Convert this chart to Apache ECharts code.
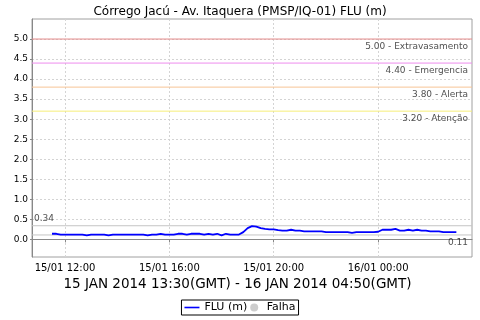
<!DOCTYPE html>
<html><head><meta charset="utf-8">
<script src="https://cdn.jsdelivr.net/npm/echarts@6/dist/echarts.min.js"></script>
<style>html,body{margin:0;padding:0;background:#fff}#c{width:480px;height:320px}</style>
</head><body><div id="c"></div>
<script>
const titleText = 'Córrego Jacú - Av. Itaquera (PMSP/IQ-01) FLU (m)';
const periodText = '15 JAN 2014 13:30(GMT) - 16 JAN 2014 04:50(GMT)';
const seriesName = 'FLU (m)';
const failName = 'Falha';
// local time of first reading, readings every 10 minutes
const startTime = '2014-01-15 11:30';
const stepMinutes = 10;
const fluValues = [
  0.14,0.14,0.12,0.12,0.12,0.12,0.12,0.12,0.10,0.12,0.12,0.12,
  0.12,0.10,0.12,0.12,0.12,0.12,0.12,0.12,0.12,0.12,0.10,0.12,
  0.12,0.14,0.12,0.12,0.12,0.14,0.14,0.12,0.14,0.14,0.14,0.12,
  0.14,0.12,0.14,0.10,0.14,0.12,0.12,0.12,0.18,0.28,0.33,0.32,
  0.28,0.26,0.25,0.25,0.23,0.22,0.22,0.24,0.22,0.22,0.20,0.20,
  0.20,0.20,0.20,0.18,0.18,0.18,0.18,0.18,0.18,0.16,0.18,0.18,
  0.18,0.18,0.18,0.19,0.24,0.24,0.24,0.26,0.22,0.22,0.24,0.22,
  0.24,0.22,0.22,0.20,0.20,0.20,0.18,0.18,0.18,0.18
];
const xTickLabels = ['2014-01-15 12:00','2014-01-15 16:00','2014-01-15 20:00','2014-01-16 00:00'];
const xRange = ['2014-01-15 10:44','2014-01-16 03:36'];
const yTicks = [0,0.5,1,1.5,2,2.5,3,3.5,4,4.5,5];
const yRange = [-0.44, 5.5];
const limitValues = [5.0, 4.4, 3.8, 3.2];
const limitNames = ['Extravasamento','Emergencia','Alerta','Atenção'];
const limitColors = ['#e48a8a','#ee8cee','#f7c596','#f6ee78'];
const maxValue = 0.34;
const minValue = 0.11;

function toUTC(s){const m=s.match(/(\d+)-(\d+)-(\d+) (\d+):(\d+)/);return Date.UTC(+m[1],+m[2]-1,+m[3],+m[4],+m[5]);}
function pad(n){return (n<10?'0':'')+n;}
const t0 = toUTC(startTime);
const data = fluValues.map((v,i)=>[t0+i*stepMinutes*60000, v]);
const xMin = toUTC(xRange[0]), xMax = toUTC(xRange[1]);
const FONT = 'DejaVu Sans';

function refLine(value, color){
  return {
    type:'line', silent:true, legendHoverLink:false, z:3,
    showSymbol:false, symbol:'none', color:color,
    lineStyle:{color:color, width:1, type:'solid'},
    data:[[xMin, value], [xMax, value]]
  };
}
const lineSeries = limitValues.map((v,i)=>refLine(v, limitColors[i]));
lineSeries.push(refLine(maxValue, '#c4c4c4'));
lineSeries.push(refLine(minValue, '#c4c4c4'));

const lbl = {show:true, color:'#222', fontFamily:FONT, fontSize:9};
const labelItems = limitValues.map((v,i)=>({value:[xMax, v],
  label:Object.assign({}, lbl, {formatter:v.toFixed(2)+' - '+limitNames[i], position:'left', distance:4, offset:[0,8]})}));
labelItems.push({value:[xMin, maxValue], label:Object.assign({}, lbl, {formatter:maxValue.toFixed(2), position:'right', distance:2, offset:[0,-7]})});
labelItems.push({value:[xMax, minValue], label:Object.assign({}, lbl, {formatter:minValue.toFixed(2), position:'left', distance:4, offset:[0,8]})});

const chart = echarts.init(document.getElementById('c'), null, {renderer:'canvas'});
chart.setOption({
  animation: false,
  backgroundColor:'#fff',
  title:{text:titleText, left:'center', top:1, textStyle:{fontFamily:FONT, fontSize:12, fontWeight:'normal', color:'#000'}},
  grid:{left:32, right:8, top:19, bottom:63, show:true, borderColor:'#a0a0a0', borderWidth:1},
  legend:{
    left:'center', top:300,
    data:[{name:seriesName, icon:'path://M0,0h15v1.6h-15z'},{name:failName, icon:'circle'}],
    itemWidth:15, itemHeight:8, itemGap:3, padding:[2,3],
    borderColor:'#000', borderWidth:1,
    textStyle:{fontFamily:FONT, fontSize:11, color:'#000'}
  },
  xAxis:{
    type:'value', min:xMin, max:xMax,
    name: periodText, nameLocation:'middle', nameGap:20,
    nameTextStyle:{fontFamily:FONT, fontSize:13.5, color:'#000', padding:[0,29,0,0]},
    axisLine:{lineStyle:{color:'#888'}},
    axisTick:{show:true, length:3, customValues: xTickLabels.map(toUTC), lineStyle:{color:'#888'}},
    axisLabel:{customValues: xTickLabels.map(toUTC), fontFamily:FONT, fontSize:10, color:'#000', margin:6,
      formatter:function(v){const d=new Date(v);return pad(d.getUTCDate())+'/'+pad(d.getUTCMonth()+1)+' '+pad(d.getUTCHours())+':'+pad(d.getUTCMinutes());}},
    splitLine:{show:true, lineStyle:{color:'#d4d4d4', type:[2,2]}}
  },
  yAxis:{
    type:'value', min:yRange[0], max:yRange[1],
    axisLine:{show:true, lineStyle:{color:'#888'}},
    axisTick:{show:true, length:2, customValues: yTicks, lineStyle:{color:'#888'}},
    axisLabel:{customValues: yTicks, fontFamily:FONT, fontSize:9, color:'#000', margin:4, formatter:function(v){return v.toFixed(1);}},
    splitLine:{show:true, lineStyle:{color:'#d4d4d4', type:[2,2]}}
  },
  series:[
    {name:seriesName, type:'line', data:data, showSymbol:false, symbol:'none', color:'#0000ff',
     lineStyle:{color:'#0000ff', width:1.8}, z:5},
    {name:failName, type:'scatter', data:[], color:'#c0c0c0', itemStyle:{color:'#c0c0c0'}},
    {type:'scatter', silent:true, symbolSize:0, itemStyle:{color:'rgba(0,0,0,0)'}, data:labelItems, z:6}
  ].concat(lineSeries)
});
</script></body></html>
